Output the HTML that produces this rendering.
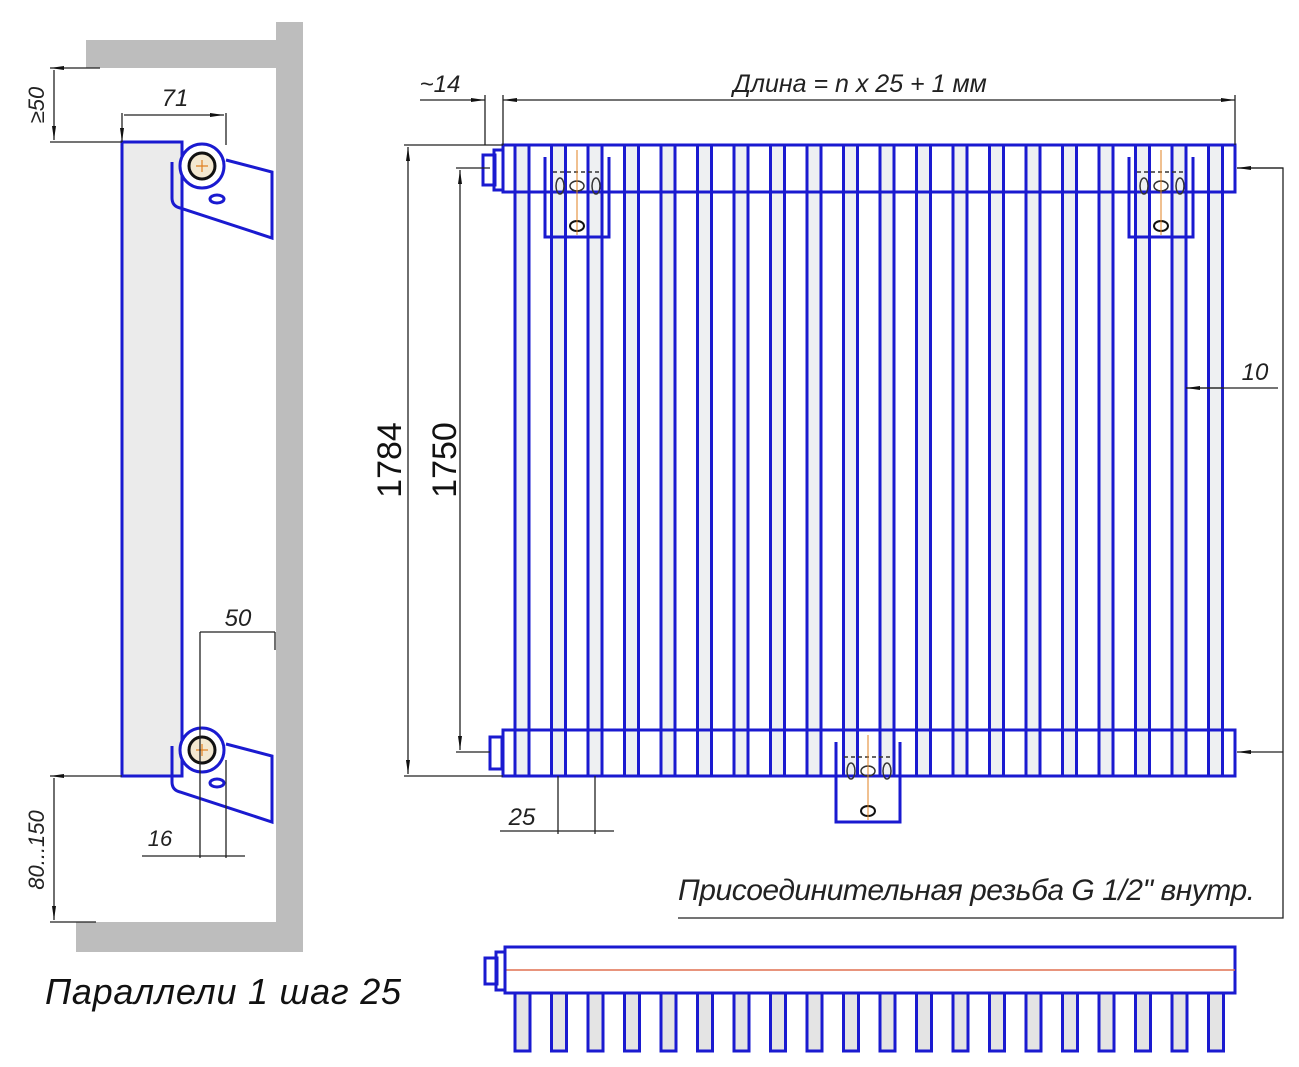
<!DOCTYPE html>
<html><head><meta charset="utf-8"><style>
body{margin:0;background:#fff}
svg{display:block}
text{font-family:"Liberation Sans",sans-serif}
.b{fill:none;stroke:#1a1ad0;stroke-width:3}
.d{stroke:#222;stroke-width:1.3;fill:none}
.t{font-style:italic;fill:#222}
</style></head><body>
<svg width="1299" height="1067" viewBox="0 0 1299 1067" xmlns="http://www.w3.org/2000/svg">
<defs>
<marker id="a" markerWidth="14" markerHeight="6" refX="14" refY="3" orient="auto" markerUnits="userSpaceOnUse"><path d="M0,1 L14,3 L0,5z" fill="#111"/></marker>
<marker id="s" markerWidth="14" markerHeight="6" refX="0" refY="3" orient="auto" markerUnits="userSpaceOnUse"><path d="M14,1 L0,3 L14,5z" fill="#111"/></marker>
</defs>
<rect x="86" y="40" width="214" height="28" fill="#bdbdbd"/>
<rect x="276" y="22" width="27" height="930" fill="#bdbdbd"/>
<rect x="76" y="922" width="224" height="30" fill="#bdbdbd"/>
<rect x="122" y="142" width="60" height="634" fill="#ebebeb" stroke="#1a1ad0" stroke-width="3"/>
<g id="br">
<path d="M172,162 L172,198 Q172,206 180,208 L272,238 L272,172 L226,160" class="b" fill="#fff"/>
<circle cx="202" cy="166" r="22" fill="#fff" stroke="#1a1ad0" stroke-width="3"/>
<circle cx="202" cy="166" r="13" fill="#f3e8d0" stroke="#111" stroke-width="3"/>
<path d="M196,166h12M202,160v12" stroke="#e08020" stroke-width="1.2"/>
<ellipse cx="217" cy="199" rx="7" ry="4" class="b" stroke-width="2.5"/>
</g>
<use href="#br" transform="translate(0,584)"/>
<path class="d" d="M50,68H100M50,142H122M54,70V140" marker-start="url(#s)" marker-end="url(#a)"/>
<path class="d" d="M122,142V113M226,145V113M124,115H224" marker-start="url(#s)" marker-end="url(#a)"/>
<path class="d" d="M200,750V632M275,632V650M200,632H275"/>
<path class="d" d="M200,750V858M226,760V858M142,856H245"/>
<path class="d" d="M50,776H122M50,922H96M54,778V920" marker-start="url(#s)" marker-end="url(#a)"/>
<text class="t" x="175" y="106" font-size="24" text-anchor="middle">71</text>
<text class="t" x="238" y="626" font-size="24" text-anchor="middle">50</text>
<text class="t" x="160" y="846" font-size="22" text-anchor="middle">16</text>
<text class="t" font-size="22" transform="translate(44,105) rotate(-90)" text-anchor="middle">≥50</text>
<text class="t" font-size="22" transform="translate(44,850) rotate(-90)" text-anchor="middle">80...150</text>
<text x="45" y="1004" font-size="36" font-style="italic" fill="#111" textLength="356">Параллели 1 шаг 25</text>
<rect x="503" y="145" width="732" height="47" fill="#dcdcdc" class="b"/>
<rect x="503" y="730" width="732" height="46" fill="#dcdcdc" class="b"/>
<rect x="483" y="155" width="12" height="30" fill="#f4f0c8" class="b" stroke-width="2.5"/>
<rect x="494" y="150" width="9" height="40" fill="#fff" class="b" stroke-width="2.5"/>
<rect x="490" y="737" width="12" height="32" fill="#fff" class="b" stroke-width="2.5"/>
<g fill="#eef0f2" stroke="#1a1ad0" stroke-width="3">
<rect x="515" y="145" width="14" height="631"/><rect x="551.5" y="145" width="14" height="631"/><rect x="588" y="145" width="14" height="631"/><rect x="624.5" y="145" width="14" height="631"/><rect x="661" y="145" width="14" height="631"/><rect x="697.5" y="145" width="14" height="631"/><rect x="734" y="145" width="14" height="631"/><rect x="770.5" y="145" width="14" height="631"/><rect x="807" y="145" width="14" height="631"/><rect x="843.5" y="145" width="14" height="631"/><rect x="880" y="145" width="14" height="631"/><rect x="916.5" y="145" width="14" height="631"/><rect x="953" y="145" width="14" height="631"/><rect x="989.5" y="145" width="14" height="631"/><rect x="1026" y="145" width="14" height="631"/><rect x="1062.5" y="145" width="14" height="631"/><rect x="1099" y="145" width="14" height="631"/><rect x="1135.5" y="145" width="14" height="631"/><rect x="1172" y="145" width="14" height="631"/><rect x="1208.5" y="145" width="14" height="631"/>
</g>
<path d="M503,192H1235M503,730H1235" stroke="#1a1ad0" stroke-width="3"/>
<g id="mb" fill="none" stroke="#1a1ad0" stroke-width="3">
<path d="M545,157V237H609V157"/>
<path d="M553,172H602" stroke="#333" stroke-width="1.5" stroke-dasharray="4 3"/>
<ellipse cx="560" cy="186" rx="4" ry="8" stroke="#333" stroke-width="1.5"/>
<ellipse cx="577" cy="186" rx="7" ry="5" stroke="#333" stroke-width="1.5"/>
<ellipse cx="596" cy="186" rx="4" ry="8" stroke="#333" stroke-width="1.5"/>
<ellipse cx="577" cy="226" rx="7" ry="5" stroke="#111" stroke-width="2"/>
<path d="M577,150V235" stroke="#e08020" stroke-width="1"/>
</g>
<use href="#mb" transform="translate(584,0)"/>
<use href="#mb" transform="translate(291,585)"/>
<path class="d" d="M485,145V95M503,145V95"/>
<path class="d" d="M1235,145V95"/>
<path class="d" d="M420,100H485" marker-end="url(#a)"/>
<path class="d" d="M503,100H1235" marker-start="url(#s)" marker-end="url(#a)"/>
<text class="t" x="860" y="92" font-size="25" text-anchor="middle">Длина = n x 25 + 1 мм</text>
<text class="t" x="440" y="92" font-size="24" text-anchor="middle">~14</text>
<path class="d" d="M404,145H503M404,776H503M456,168H490M456,752H490"/>
<path class="d" d="M408,147V774" marker-start="url(#s)" marker-end="url(#a)"/>
<path class="d" d="M460,170V750" marker-start="url(#s)" marker-end="url(#a)"/>
<text font-size="34" fill="#111" transform="translate(401,460) rotate(-90)" text-anchor="middle">1784</text>
<text font-size="34" fill="#111" transform="translate(456,460) rotate(-90)" text-anchor="middle">1750</text>
<path class="d" d="M1237,168H1283V918H678"/>
<path class="d" d="M1283,168H1237" marker-end="url(#a)"/>
<path class="d" d="M1283,752H1237" marker-end="url(#a)"/>
<path class="d" d="M1186,388H1278"/>
<path class="d" d="M1186,388H1222" marker-start="url(#s)"/>
<text class="t" x="1255" y="380" font-size="24" text-anchor="middle">10</text>
<path class="d" d="M558,776V834M595,776V834M500,831H614"/>
<text class="t" x="522" y="825" font-size="24" text-anchor="middle">25</text>
<text class="t" x="678" y="900" font-size="30" textLength="577">Присоединительная резьба G 1/2" внутр.</text>
<rect x="505" y="947" width="730" height="46" fill="#dcdcdc" class="b"/>
<path d="M505,970H1235" stroke="#e07050" stroke-width="1.5"/>
<rect x="485" y="958" width="12" height="26" fill="#fff" class="b" stroke-width="2.5"/>
<rect x="496" y="952" width="9" height="38" fill="#fff" class="b" stroke-width="2.5"/>
<g fill="#e4e4e4" stroke="#1a1ad0" stroke-width="3">
<rect x="515" y="993" width="15" height="58"/><rect x="551.5" y="993" width="15" height="58"/><rect x="588" y="993" width="15" height="58"/><rect x="624.5" y="993" width="15" height="58"/><rect x="661" y="993" width="15" height="58"/><rect x="697.5" y="993" width="15" height="58"/><rect x="734" y="993" width="15" height="58"/><rect x="770.5" y="993" width="15" height="58"/><rect x="807" y="993" width="15" height="58"/><rect x="843.5" y="993" width="15" height="58"/><rect x="880" y="993" width="15" height="58"/><rect x="916.5" y="993" width="15" height="58"/><rect x="953" y="993" width="15" height="58"/><rect x="989.5" y="993" width="15" height="58"/><rect x="1026" y="993" width="15" height="58"/><rect x="1062.5" y="993" width="15" height="58"/><rect x="1099" y="993" width="15" height="58"/><rect x="1135.5" y="993" width="15" height="58"/><rect x="1172" y="993" width="15" height="58"/><rect x="1208.5" y="993" width="15" height="58"/>
</g>
</svg>
</body></html>
